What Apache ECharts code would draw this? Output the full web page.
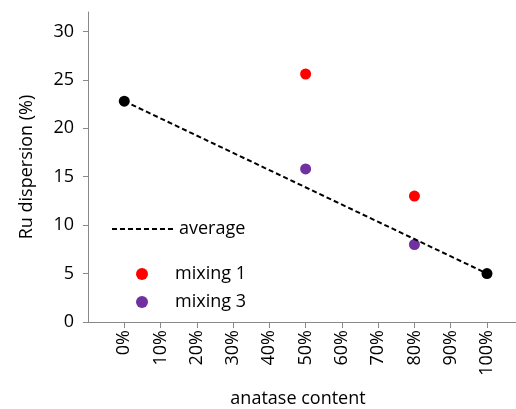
<!DOCTYPE html>
<html><head><meta charset="utf-8">
<script src="https://cdn.jsdelivr.net/npm/echarts@6/dist/echarts.min.js"></script>
<style>html,body{margin:0;padding:0;background:#fff}#c{width:516px;height:409px}</style>
</head><body><div id="c"></div>
<script>
const xTicks = [0,10,20,30,40,50,60,70,80,90,100];
const averageLine = [[0,22.8],[100,5.0]];
const endPoints = [[0,22.8],[100,5.0]];
const mixing1 = [[50,25.6],[80,13.0]];
const mixing3 = [[50,15.8],[80,8.0]];
const F = 'Open Sans';
const chart = echarts.init(document.getElementById('c'));
const T = {fontSize:18,fontFamily:F,color:'#000'};
chart.setOption({
  animation:false,
  grid:{left:88,right:0,top:12,bottom:87,containLabel:false,outerBoundsMode:'none'},
  xAxis:{type:'value',min:-10,max:108,interval:10,
    name:'anatase content',nameLocation:'middle',nameGap:68,nameTextStyle:{fontSize:18,fontFamily:F,color:'#000',padding:[0,0,0,-8]},
    axisLine:{onZero:false,lineStyle:{color:'#888'}},axisTick:{show:true,length:6,lineStyle:{color:'#888'}},
    splitLine:{show:false},
    axisLabel:{rotate:90,fontSize:18,fontFamily:F,color:'#000',showMinLabel:false,showMaxLabel:false,
      formatter:v=>xTicks.indexOf(v)>=0?v+'%':''}},
  yAxis:{type:'value',min:0,max:32,interval:5,position:'left',
    name:'Ru dispersion (%)',nameLocation:'middle',nameGap:52,nameTextStyle:{fontSize:18,fontFamily:F,color:'#000'},
    axisLine:{show:true,onZero:false,lineStyle:{color:'#888'}},axisTick:{show:true,length:5,lineStyle:{color:'#888'}},
    splitLine:{show:false},
    axisLabel:{fontSize:18,fontFamily:F,color:'#000',margin:14,showMaxLabel:false}},
  legend:[
    {left:106,top:215,itemWidth:62,itemHeight:14,itemGap:4,selectedMode:false,textStyle:T,data:[{name:'average',itemStyle:{opacity:0}}]},
    {left:131,top:260,itemWidth:12,itemHeight:12,selectedMode:false,textStyle:Object.assign({padding:[0,0,0,22]},T),data:['mixing 1']},
    {left:131,top:288,itemWidth:12,itemHeight:12,selectedMode:false,textStyle:Object.assign({padding:[0,0,0,22]},T),data:['mixing 3']}
  ],
  series:[
    {name:'average',type:'line',data:averageLine,symbol:'none',lineStyle:{color:'#000',width:2,type:[5,3]},itemStyle:{color:'#000'}},
    {name:'ends',type:'scatter',data:endPoints,symbolSize:11,itemStyle:{color:'#000',opacity:1}},
    {name:'mixing 1',type:'scatter',data:mixing1,symbolSize:11,itemStyle:{color:'#ff0000',opacity:1}},
    {name:'mixing 3',type:'scatter',data:mixing3,symbolSize:11,itemStyle:{color:'#7030a0',opacity:1}}
  ]
});
</script></body></html>
